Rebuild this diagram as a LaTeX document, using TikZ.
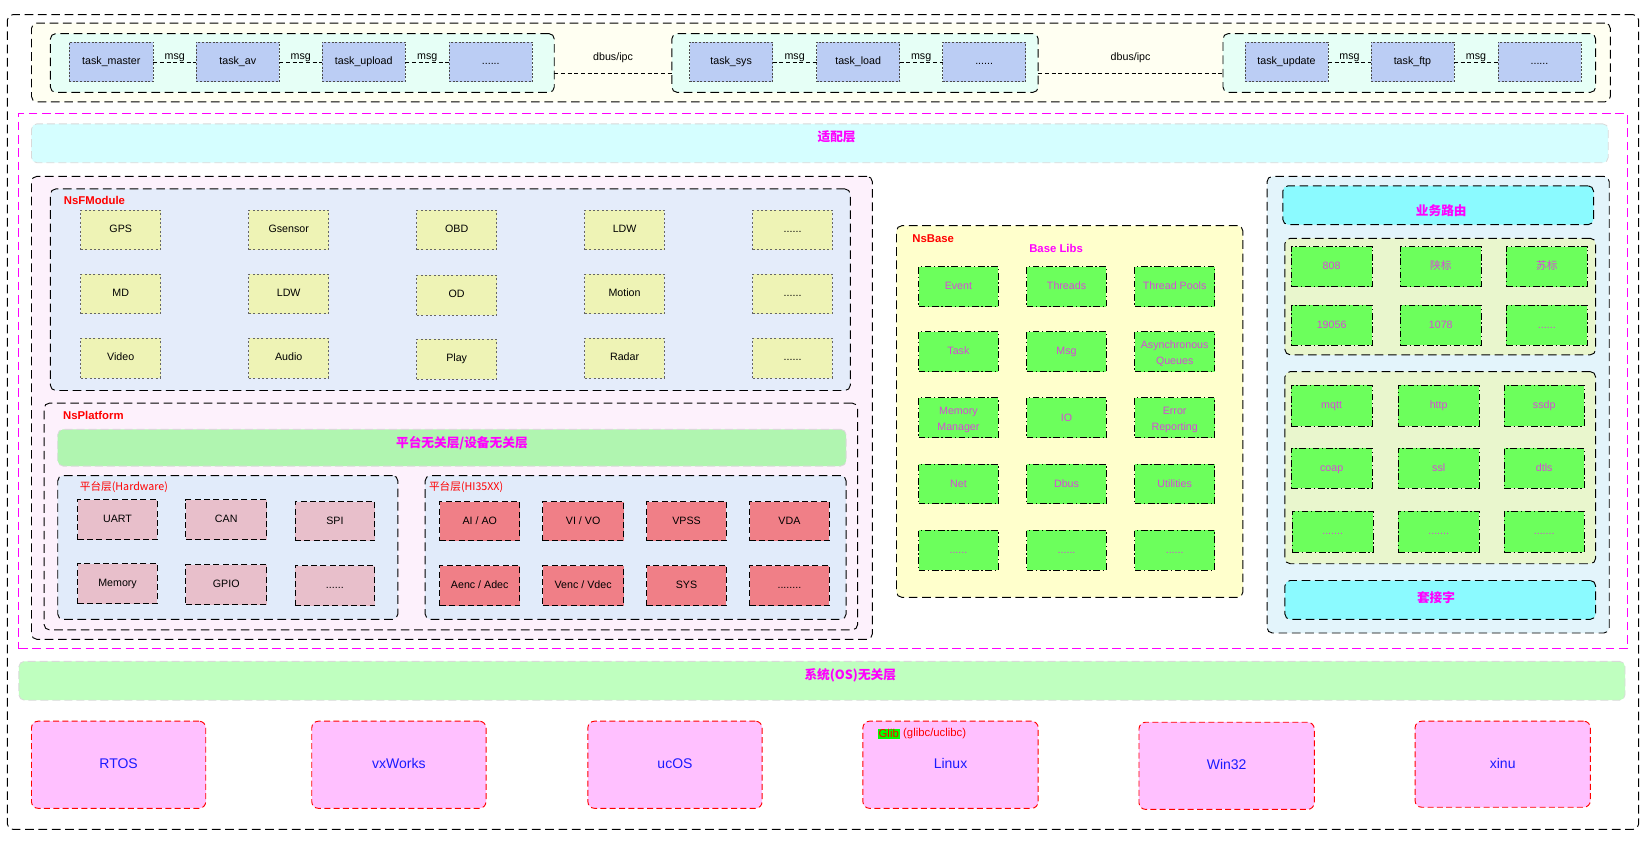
\documentclass[tikz,border=0pt]{standalone}
\usepackage{fontspec}
\setmainfont{Liberation Sans}
\newfontfamily\cjk{Noto Sans CJK SC}
\usetikzlibrary{fit}
\definecolor{topY}{HTML}{FFFFF2}
\definecolor{mint}{HTML}{E6FFF6}
\definecolor{taskB}{HTML}{BBCDF4}
\definecolor{adaptC}{HTML}{D5FEFF}
\definecolor{leftP}{HTML}{FDF1FC}
\definecolor{fmodB}{HTML}{E4ECFA}
\definecolor{modY}{HTML}{EEF3B5}
\definecolor{greenBar}{HTML}{B0F5B0}
\definecolor{hwBlue}{HTML}{E1EBFA}
\definecolor{hwP}{HTML}{E8BFCB}
\definecolor{hiR}{HTML}{F07F87}
\definecolor{baseY}{HTML}{FFFFCC}
\definecolor{libG}{HTML}{6CFF5C}
\definecolor{libM}{HTML}{D848D8}
\definecolor{rightB}{HTML}{E3F4FB}
\definecolor{cyanBar}{HTML}{8BFAFF}
\definecolor{rgrp}{HTML}{E9F6CD}
\definecolor{osBar}{HTML}{BFFFBF}
\definecolor{osP}{HTML}{FFC0FF}
\definecolor{osB}{HTML}{1A1AFF}
\definecolor{glibG}{HTML}{00FF00}
\definecolor{mag}{HTML}{FF00FF}
\definecolor{rd}{HTML}{FF0000}
\newcommand\myS{\fontsize{8}{9.5}\selectfont}
\newcommand\myT{\fontsize{8.5}{10}\selectfont}
\newcommand\myC{\fontsize{9.5}{11}\selectfont}
\newcommand\myO{\fontsize{10.5}{12}\selectfont}
\newcommand\myL{\fontsize{8}{12}\selectfont}
\newcommand\myG{\fontsize{8.5}{10}\selectfont}
\begin{document}
\begin{tikzpicture}[x=0.7873pt,y=-0.7873pt,
  every node/.style={inner sep=0pt, outer sep=0pt},
  frame/.style={draw=black, line width=0.7pt, dash pattern=on 6.5pt off 3.5pt, rounded corners=4pt},
  grp/.style={frame, fill=mint},
  task/.style={draw=black!70, line width=0.6pt, dash pattern=on 1.5pt off 1.2pt, fill=taskB,
    label={[font=\myS, text height=5.9pt, text depth=1.6pt]center:{#1}}},
  msgline/.style={draw=black, line width=0.6pt, dash pattern=on 3pt off 2pt},
  msglab/.style={font=\myS, above=0.5pt},
  dblab/.style={font=\myS, above=8pt},
  magframe/.style={draw=mag, line width=0.7pt, dash pattern=on 6.5pt off 3.5pt},
  bar/.style={draw=black!15, line width=0.6pt, dash pattern=on 6pt off 3pt, rounded corners=4pt},
  bartext/.style={font=\myC\bfseries, text=mag},
  title/.style={font=\myT\bfseries, text=rd},
  sublab/.style={font=\myS, text=rd},
  modbox/.style={draw=black!60, line width=0.6pt, dash pattern=on 1.5pt off 1.8pt, fill=modY,
    label={[font=\myS, text height=5.9pt, text depth=1.6pt]center:{#1}}},
  hwbox/.style={draw=black, line width=0.7pt, dash pattern=on 4.5pt off 2.5pt, fill=hwP,
    label={[font=\myS, text height=5.9pt, text depth=1.6pt]center:{#1}}},
  hibox/.style={hwbox={#1}, fill=hiR},
  libbox/.style={draw=black, line width=0.7pt, dash pattern=on 5pt off 2pt on 1pt off 2pt, fill=libG,
    label={[font=\myL, text=libM, align=center]center:{\strut #1}}},
  osbox/.style={draw=rd, line width=0.7pt, dash pattern=on 4.5pt off 2.5pt, rounded corners=5pt, fill=osP,
    label={[font=\myO, text=osB, text height=7.7pt, text depth=2pt]center:{#1}}}
]
\useasboundingbox (0,0) rectangle (1568,801);

% ---------- top: tasks ----------
\node[frame, fit={(7,14)(1561,790)}] (all) {};
\node[frame, fill=topY, fit={(30,22)(1534,97)}] (top) {};
\node[grp, fit={(48,32)(528,88)}] (g1) {};
\node[grp, fit={(640,32)(989,88)}] (g2) {};
\node[grp, fit={(1165,32)(1520,88)}] (g3) {};

\node[task={task\_master}, fit={(66,40)(146,78)}] (t11) {};
\node[task={task\_av}, fit={(187,40)(266,78)}] (t12) {};
\node[task={task\_upload}, fit={(307,40)(386,78)}] (t13) {};
\node[task={......}, fit={(428,40)(507,78)}] (t14) {};
\node[task={task\_sys}, fit={(657,40)(736,78)}] (t21) {};
\node[task={task\_load}, fit={(778,40)(857,78)}] (t22) {};
\node[task={......}, fit={(898,40)(977,78)}] (t23) {};
\node[task={task\_update}, fit={(1186,40)(1265,78)}] (t31) {};
\node[task={task\_ftp}, fit={(1306,40)(1385,78)}] (t32) {};
\node[task={......}, fit={(1427,40)(1506,78)}] (t33) {};

\draw[msgline] (t11) -- node[msglab] (m1) {msg} (t12);
\draw[msgline] (t12) -- node[msglab] (m2) {msg} (t13);
\draw[msgline] (t13) -- node[msglab] (m3) {msg} (t14);
\draw[msgline] (t21) -- node[msglab] (m4) {msg} (t22);
\draw[msgline] (t22) -- node[msglab] (m5) {msg} (t23);
\draw[msgline] (t31) -- node[msglab] (m6) {msg} (t32);
\draw[msgline] (t32) -- node[msglab] (m7) {msg} (t33);
\draw[msgline] ([yshift=-7.5pt]g1.east) -- node[dblab] (d1) {dbus/ipc} ([yshift=-7.5pt]g2.west);
\draw[msgline] ([yshift=-7.5pt]g2.east) -- node[dblab] (d2) {dbus/ipc} ([yshift=-7.5pt]g3.west);

% ---------- middle ----------
\node[magframe, fit={(18,108)(1550,618)}] (mid) {};
\node[bar, fill=adaptC, fit={(30,118)(1532,155)}] (adapt) {};
\node[bartext] (adaptT) at (797,130) {\cjk 适配层};

% left big box
\node[frame, fill=leftP, fit={(30,168)(831,609)}] (left) {};
\node[frame, fill=fmodB, fit={(48,180)(810,372)}] (fmod) {};
\node[title] (fmodT) at (90,191) {NsFModule};

\node[modbox={GPS}, fit={(77,200)(153,238)}] (m11) {};
\node[modbox={Gsensor}, fit={(237,200)(313,238)}] (m12) {};
\node[modbox={OBD}, fit={(397,200)(473,238)}] (m13) {};
\node[modbox={LDW}, fit={(557,200)(633,238)}] (m14) {};
\node[modbox={......}, fit={(717,200)(793,238)}] (m15) {};
\node[modbox={MD}, fit={(77,261)(153,299)}] (m21) {};
\node[modbox={LDW}, fit={(237,261)(313,299)}] (m22) {};
\node[modbox={OD}, fit={(397,262)(473,300)}] (m23) {};
\node[modbox={Motion}, fit={(557,261)(633,299)}] (m24) {};
\node[modbox={......}, fit={(717,261)(793,299)}] (m25) {};
\node[modbox={Video}, fit={(77,322)(153,360)}] (m31) {};
\node[modbox={Audio}, fit={(237,322)(313,360)}] (m32) {};
\node[modbox={Play}, fit={(397,323)(473,361)}] (m33) {};
\node[modbox={Radar}, fit={(557,322)(633,360)}] (m34) {};
\node[modbox={......}, fit={(717,322)(793,360)}] (m35) {};

\node[frame, fill=leftP, fit={(42,384)(817,600)}] (plat) {};
\node[title] (platT) at (89,396) {NsPlatform};
\node[bar, fill=greenBar, fit={(55,409)(806,444)}] (pbar) {};
\node[bartext] (pbarT) at (440,422) {\cjk 平台无关层/设备无关层};

\node[frame, fill=hwBlue, fit={(55,453)(379,590)}] (hw) {};
\node[sublab] (hwT) at (118,464) {\cjk 平台层(Hardware)};
\node[frame, fill=hwBlue, fit={(405,453)(806,590)}] (hi) {};
\node[sublab] (hiT) at (444,464) {\cjk 平台层(HI35XX)};

\node[hwbox={UART}, fit={(74,476)(150,514)}] (h11) {};
\node[hwbox={CAN}, fit={(177,476)(254,514)}] (h12) {};
\node[hwbox={SPI}, fit={(281,478)(357,515)}] (h13) {};
\node[hwbox={Memory}, fit={(74,537)(150,575)}] (h21) {};
\node[hwbox={GPIO}, fit={(177,538)(254,576)}] (h22) {};
\node[hwbox={......}, fit={(281,539)(357,577)}] (h23) {};

\node[hibox={AI / AO}, fit={(419,478)(495,515)}] (i11) {};
\node[hibox={VI / VO}, fit={(517,478)(594,515)}] (i12) {};
\node[hibox={VPSS}, fit={(616,478)(692,515)}] (i13) {};
\node[hibox={VDA}, fit={(714,478)(790,515)}] (i14) {};
\node[hibox={Aenc / Adec}, fit={(419,539)(495,577)}] (i21) {};
\node[hibox={Venc / Vdec}, fit={(517,539)(594,577)}] (i22) {};
\node[hibox={SYS}, fit={(616,539)(692,577)}] (i23) {};
\node[hibox={........}, fit={(714,539)(790,577)}] (i24) {};

% NsBase
\node[frame, fill=baseY, fit={(854,215)(1184,569)}] (nsb) {};
\node[title] (nsbT) at (889,227) {NsBase};
\node[title, text=mag] (libT) at (1006,237) {Base Libs};

\node[libbox={Event}, fit={(875,254)(951,292)}] (b11) {};
\node[libbox={Threads}, fit={(978,254)(1054,292)}] (b12) {};
\node[libbox={Thread Pools}, fit={(1081,254)(1157,292)}] (b13) {};
\node[libbox={Task}, fit={(875,316)(951,354)}] (b21) {};
\node[libbox={Msg}, fit={(978,316)(1054,354)}] (b22) {};
\node[libbox={Asynchronous\\Queues}, fit={(1081,316)(1157,354)}] (b23) {};
\node[libbox={Memory\\Manager}, fit={(875,379)(951,417)}] (b31) {};
\node[libbox={IO}, fit={(978,379)(1054,417)}] (b32) {};
\node[libbox={Error\\Reporting}, fit={(1081,379)(1157,417)}] (b33) {};
\node[libbox={Net}, fit={(875,442)(951,480)}] (b41) {};
\node[libbox={Dbus}, fit={(978,442)(1054,480)}] (b42) {};
\node[libbox={Utilities}, fit={(1081,442)(1157,480)}] (b43) {};
\node[libbox={......}, fit={(875,505)(951,543)}] (b51) {};
\node[libbox={......}, fit={(978,505)(1054,543)}] (b52) {};
\node[libbox={......}, fit={(1081,505)(1157,543)}] (b53) {};

% right box
\node[frame, fill=rightB, fit={(1207,168)(1533,603)}] (rt) {};
\node[frame, fill=cyanBar, fit={(1222,177)(1518,214)}] (route) {};
\node[bartext] (routeT) at (1373,201) {\cjk 业务路由};
\node[frame, fill=rgrp, fit={(1224,227)(1520,338)}] (rg1) {};
\node[libbox={808}, fit={(1230,235)(1307,273)}] (r11) {};
\node[libbox={\cjk 陕标}, fit={(1334,235)(1411,273)}] (r12) {};
\node[libbox={\cjk 苏标}, fit={(1435,235)(1512,273)}] (r13) {};
\node[libbox={19056}, fit={(1230,291)(1307,329)}] (r21) {};
\node[libbox={1078}, fit={(1334,291)(1411,329)}] (r22) {};
\node[libbox={......}, fit={(1435,291)(1512,329)}] (r23) {};

\node[frame, fill=rgrp, fit={(1224,354)(1520,537)}] (rg2) {};
\node[libbox={mqtt}, fit={(1230,367)(1307,406)}] (p11) {};
\node[libbox={http}, fit={(1332,367)(1409,406)}] (p12) {};
\node[libbox={ssdp}, fit={(1433,367)(1509,406)}] (p13) {};
\node[libbox={coap}, fit={(1230,427)(1307,465)}] (p21) {};
\node[libbox={ssl}, fit={(1332,427)(1409,465)}] (p22) {};
\node[libbox={dtls}, fit={(1433,427)(1509,465)}] (p23) {};
\node[libbox={.......}, fit={(1231,487)(1308,526)}] (p31) {};
\node[libbox={.......}, fit={(1332,487)(1409,526)}] (p32) {};
\node[libbox={.......}, fit={(1433,487)(1509,526)}] (p33) {};

\node[frame, fill=cyanBar, fit={(1224,553)(1520,590)}] (sock) {};
\node[bartext] (sockT) at (1368,569) {\cjk 套接字};

% ---------- bottom ----------
\node[bar, fill=osBar, fit={(18,630)(1548,667)}] (osbar) {};
\node[bartext] (osbarT) at (810,643) {\cjk 系统(OS)无关层};

\node[osbox={RTOS}, fit={(30,687)(196,770)}] (os1) {};
\node[osbox={vxWorks}, fit={(297,687)(463,770)}] (os2) {};
\node[osbox={ucOS}, fit={(560,687)(726,770)}] (os3) {};
\node[osbox={Linux}, fit={(822,687)(989,770)}] (os4) {};
\node[osbox={Win32}, fit={(1085,688)(1252,771)}] (os5) {};
\node[osbox={xinu}, fit={(1348,687)(1515,769)}] (os6) {};
\node[fill=glibG, text=rd, font=\myG, inner sep=0.8pt, anchor=west] (glib) at (836,699) {Glib};
\node[text=rd, font=\myG, anchor=west] (glibc) at ([xshift=2.5pt]glib.east) {(glibc/uclibc)};
\end{tikzpicture}
\end{document}
